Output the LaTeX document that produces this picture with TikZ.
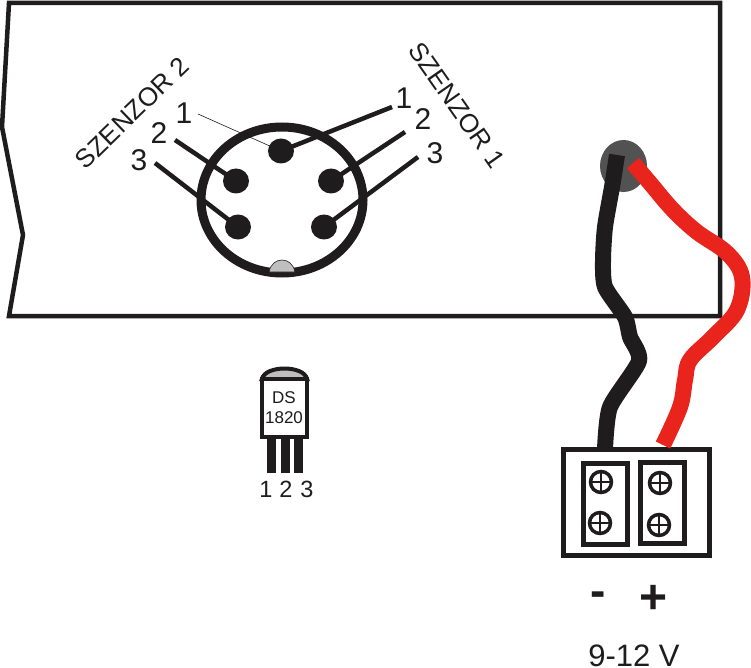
\documentclass[tikz,border=0pt]{standalone}
\usepackage{fontspec}
\setmainfont{Liberation Sans}
\usetikzlibrary{shapes.geometric}
\definecolor{wirered}{RGB}{232,36,28}
\definecolor{inkblack}{RGB}{30,28,28}
\tikzset{
	pin/.style={ellipse, fill=inkblack, inner sep=0, minimum width=26pt, minimum height=25pt},
	screw/.style={circle, draw=inkblack, line width=3.5pt, inner sep=0, minimum size=21pt},
	pinlabel/.style={inner sep=0, font=\fontsize{30}{30}\selectfont, text=inkblack},
	sensorlabel/.style={inner sep=0, font=\fontsize{26}{26}\selectfont, text=inkblack},
	lead/.style={draw=inkblack, line width=4.5pt},
	wire/.style={line width=16pt, line join=round}
}
\begin{document}
\begin{tikzpicture}[x=1pt, y=-1pt]
\useasboundingbox (0,0) rectangle (751,668);

% panel
\draw[inkblack, line width=4.5pt, line join=miter] (9,3) -- (2,127) -- (23,235) -- (9,316) -- (720,316) -- (720,3) -- cycle;

% connector
\draw[inkblack, line width=9pt] (282,200) ellipse (81 and 73);
\draw[inkblack, fill=black!25, line width=0.6pt] (269,272) .. controls (272,256) and (292,256) .. (295,272) -- cycle;

\foreach \name/\x/\y in {
p1/281/151%
,p2/331/181%
,p3/324/227%
,q2/236/181%
,q3/238/227%
}{
	\node[pin] (\name) at (\x,\y) {};
}

\coordinate (e1) at (392,107);
\coordinate (e2) at (405,132);
\coordinate (e3) at (418,157);
\coordinate (f1) at (198,114);
\coordinate (f2) at (175,140);
\coordinate (f3) at (155,163);

\foreach \u \v in {
p1/e1%
,p2/e2%
,p3/e3%
,q2/f2%
,q3/f3%
}{
	\draw[lead] (\u.center) -- (\v);
}
\draw[inkblack, line width=0.6pt] (p1.center) -- (f1);

\foreach \name/\x/\y/\t in {
l1/404/98/1%
,l2/423/119/2%
,l3/435/153/3%
,m1/184/113/1%
,m2/159/133/2%
,m3/139/160/3%
}{
	\node[pinlabel] (\name) at (\x,\y) {\t};
}
\node[sensorlabel, rotate=44] (s2) at (132,113) {SZENZOR 2};
\node[sensorlabel, rotate=-55] (s1) at (457,105) {SZENZOR 1};

% DS1820
\foreach \x in {271.5,285,298.5}{
	\fill[inkblack] (\x-4.5,436) rectangle (\x+4.5,473);
}
\draw[inkblack, fill=black!25, line width=4pt] (262,379) .. controls (265,365) and (304,365) .. (307,379) -- cycle;
\node[draw=inkblack, fill=white, line width=4pt, minimum width=45pt, minimum height=58pt, inner sep=0, anchor=north west] (ds) at (260,377) {};
\node[inner sep=0, font=\fontsize{17}{17}\selectfont, text=inkblack] (dsa) at (284,398) {DS};
\node[inner sep=0, font=\fontsize{17}{17}\selectfont, text=inkblack] (dsb) at (284,418) {1820};
\foreach \x/\t in {266/1,286/2,307/3}{
	\node[inner sep=0, font=\fontsize{23.5}{23.5}\selectfont, text=inkblack] (leg\t) at (\x,489) {\t};
}

% power terminal
\node[draw=inkblack, line width=4.5pt, minimum width=146pt, minimum height=106pt, inner sep=0, anchor=north west] (block) at (561,447) {};
\node[draw=inkblack, line width=4.5pt, minimum width=44pt, minimum height=81pt, inner sep=0, anchor=north west] (minusbox) at (581,461) {};
\node[draw=inkblack, line width=4.5pt, minimum width=44pt, minimum height=81pt, inner sep=0, anchor=north west] (plusbox) at (638,460) {};

\foreach \name/\x/\y in {
a/601/482%
,b/600/523%
,c/660/483%
,d/659/525%
}{
	\node[screw] (\name) at (\x,\y) {};
	\draw[inkblack, line width=2.5pt] (\name.north) -- (\name.south) (\name.west) -- (\name.east);
}

\node[inner sep=0, font=\bfseries\fontsize{46}{46}\selectfont, text=inkblack] (minus) at (598,599) {-};
\node[inner sep=0, font=\bfseries\fontsize{48}{48}\selectfont, text=inkblack] (plus) at (654,599) {+};
\node[inner sep=0, anchor=base, font=\fontsize{31}{31}\selectfont, text=inkblack] (volt) at (634,666) {9-12 V};

% cable gland and wires
\node[ellipse, fill=black!68, inner sep=0, minimum width=47pt, minimum height=52pt] (gland) at (623.5,166) {};
\draw[wire, wirered] plot[smooth, tension=0.6] coordinates {(633,163) (650,183) (673,210) (697,232) (727,253) (742,277) (737,310) (713,337) (690,360) (685,380) (680,407) (663,445)};
\draw[wire, inkblack] plot[smooth, tension=0.4] coordinates {(617,155) (612,187) (605,227) (603,260) (605,287) (625,317) (630,337) (639,361) (610,407) (605,449)};

\end{tikzpicture}
\end{document}
